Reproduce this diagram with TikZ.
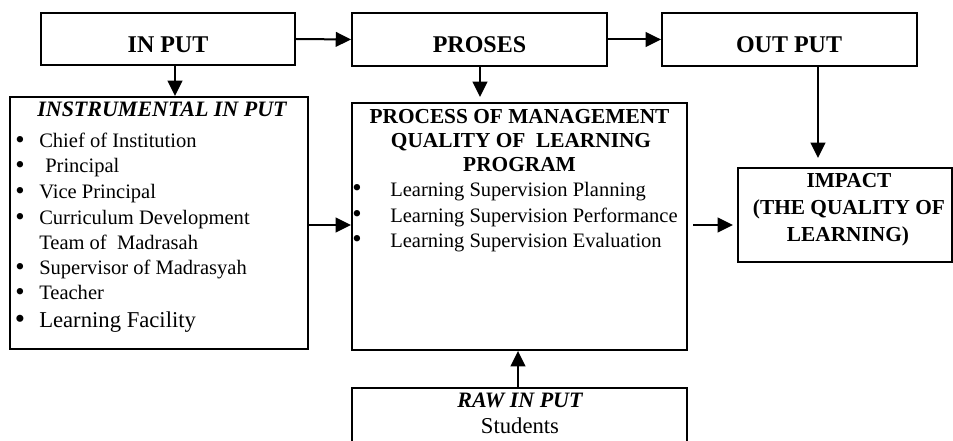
\documentclass[tikz,border=0pt]{standalone}
\usepackage{fontspec}
\setmainfont{Liberation Serif}
\usetikzlibrary{arrows.meta,fit}
\begin{document}
\begin{tikzpicture}[x=0.75pt,y=-0.75pt,
  box/.style={draw, line width=1.4pt, inner sep=0pt},
  arr/.style={line width=1.5pt, -{Triangle[length=11.5pt,width=11pt]}},
  hd/.style={font=\fontsize{18}{20}\selectfont\bfseries, anchor=base, inner sep=0pt},
  sub/.style={font=\fontsize{16}{18}\selectfont\bfseries, anchor=base, inner sep=0pt},
  subit/.style={font=\fontsize{16.5}{18}\selectfont\bfseries\itshape, anchor=base, inner sep=0pt},
  item/.style={font=\fontsize{15.4}{17}\selectfont, anchor=base west, inner sep=0pt},
  bul/.style={font=\fontsize{20}{22}\selectfont, anchor=base, inner sep=0pt}
]
\clip (0,0) rectangle (953,441);
% boxes
\node[box, fit={(41,13) (295,65)}] (inbox) {};
\node[box, fit={(352,13) (607,66)}] (proses) {};
\node[box, fit={(662,13) (917,66)}] (outbox) {};
\node[box, fit={(10,97) (308,349)}] (instr) {};
\node[box, fit={(352,103) (687,350)}] (proc) {};
\node[box, fit={(738,168) (952,262)}] (impact) {};
\node[box, fit={(352,388) (687,470)}] (raw) {};
% headings
\node[hd] (tin) at (168,53) {IN PUT};
\node[hd] (tpr) at (479.5,53) {PROSES};
\node[hd] (tout) at (789,53) {OUT PUT};
% instrumental
\node[subit] (tinstr) at (162,117) {INSTRUMENTAL IN PUT};
\foreach \y/\t/\n in {148/Chief of Institution/a, 199/Vice Principal/c, 225/Curriculum Development/d, 275/Supervisor of Madrasyah/f, 300/Teacher/g}{
  \node[bul] (b\n) at (20,\y+1) {\textbullet};
  \node[item] (i\n) at (39,\y) {\t};
}
\node[bul] (bb) at (20,174) {\textbullet};
\node[item] (ib) at (45,173) {Principal};
\node[item] (ie) at (39,250) {Team of \ Madrasah};
\node[bul,font=\fontsize{22}{24}\selectfont] (bh) at (20,329) {\textbullet};
\node[item,font=\fontsize{17}{19}\selectfont] (ih) at (39,328) {Learning Facility};
% process
\node[sub] (p1) at (519.5,124) {PROCESS OF MANAGEMENT};
\node[sub] (p2) at (521,148) {QUALITY OF \ LEARNING};
\node[sub] (p3) at (519.5,172) {PROGRAM};
\foreach \y/\t/\n in {197/Learning Supervision Planning/a, 223/Learning Supervision Performance/b, 248/Learning Supervision Evaluation/c}{
  \node[bul] (pb\n) at (357,\y) {\textbullet};
  \node[item] (pi\n) at (390,\y) {\t};
}
% impact
\node[sub] (m1) at (849,188) {IMPACT};
\node[sub] (m2) at (849,215) {(THE QUALITY OF};
\node[sub] (m3) at (848,242) {LEARNING)};
% raw
\node[subit] (r1) at (520,407) {RAW IN PUT};
\node[font=\fontsize{17}{19}\selectfont, anchor=base, inner sep=0pt] (r2) at (520,433) {Students};
% arrow end points
\coordinate (ptip) at (480,97);
\coordinate (pstart) at (693,225);
\coordinate (itip) at (733,225);
\coordinate (otip) at (818,158);
% connectors
\draw[arr] (inbox.east) -- (proses.west);
\draw[arr] (proses.east) -- (outbox.west);
\draw[arr] (inbox.south -| 175,0) -- (instr.north -| 175,0);
\draw[arr] (proses.south -| ptip) -- (ptip);
\draw[arr] (instr.east |- 0,225) -- (proc.west |- 0,225);
\draw[arr] (pstart) -- (itip);
\draw[arr] (outbox.south -| otip) -- (otip);
\draw[arr] (raw.north -| 518,0) -- (proc.south -| 518,0);
\end{tikzpicture}
\end{document}
